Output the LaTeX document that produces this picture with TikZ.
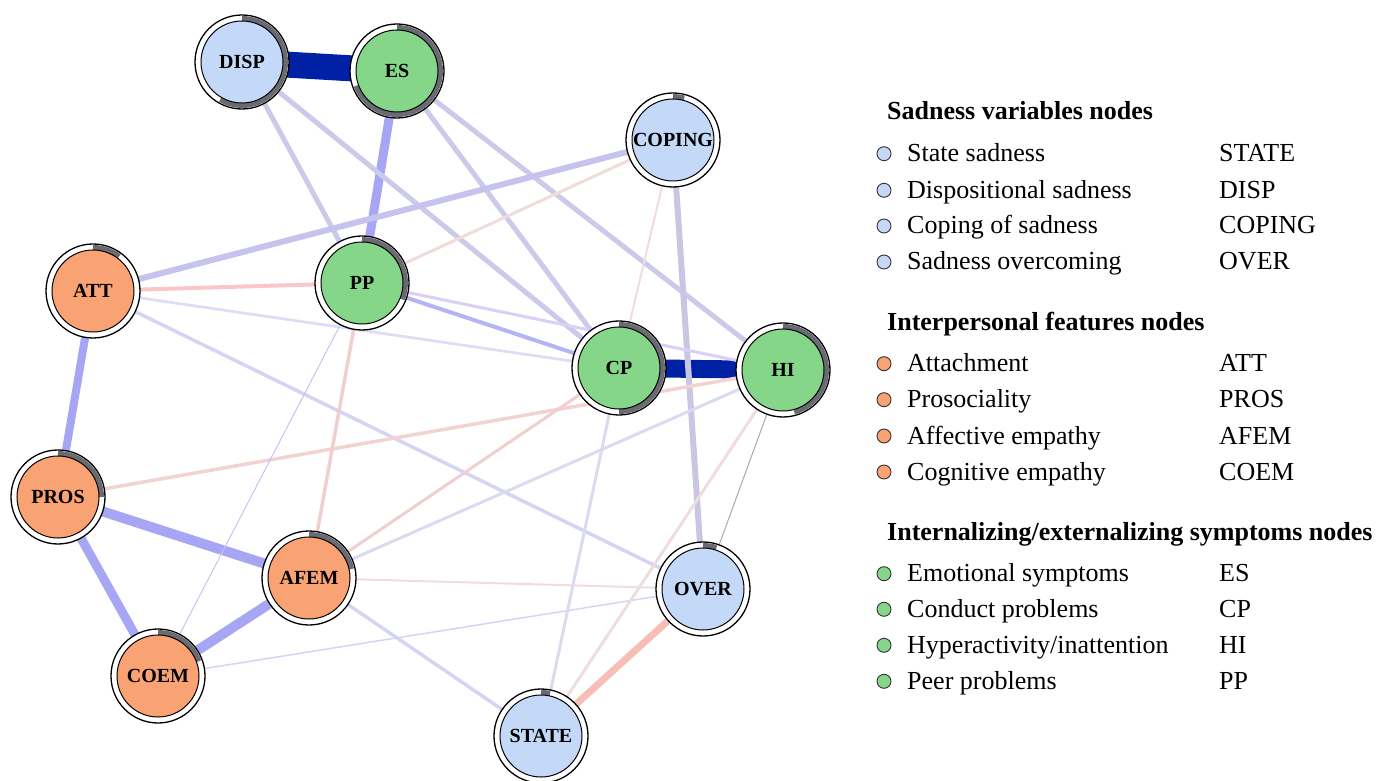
\documentclass[tikz,border=0pt]{standalone}
\usepackage{fontspec}
\setmainfont{Liberation Serif}
\usetikzlibrary{calc}
\pgfdeclarelayer{edges}
\pgfsetlayers{edges,main}
\definecolor{nblue}{RGB}{196,216,248}
\definecolor{ngreen}{RGB}{134,214,138}
\definecolor{norange}{RGB}{249,162,115}
\definecolor{ringgray}{RGB}{106,106,114}
\definecolor{edark}{RGB}{0,32,165}
\definecolor{emed}{RGB}{166,166,244}
\definecolor{elav}{RGB}{204,202,234}
\definecolor{elavB}{RGB}{198,196,238}
\definecolor{elavC}{RGB}{200,198,226}
\definecolor{ePPCP}{RGB}{180,180,244}
\definecolor{ePPHI}{RGB}{220,206,246}
\definecolor{elight}{RGB}{222,220,246}
\definecolor{elightB}{RGB}{212,212,244}
\definecolor{elightC}{RGB}{218,218,240}
\definecolor{ethin}{RGB}{196,196,240}
\definecolor{egray}{RGB}{168,168,184}
\definecolor{epink}{RGB}{250,198,202}
\definecolor{epinkB}{RGB}{240,220,218}
\definecolor{epinkC}{RGB}{243,210,210}
\definecolor{epinkD}{RGB}{240,207,207}
\definecolor{epinkE}{RGB}{239,220,220}
\definecolor{esalmon}{RGB}{247,190,182}
\tikzset{
  outerc/.style={circle, draw=black, line width=1.3pt, fill=white, minimum size=94pt, inner sep=0pt},
  innerc/.style={circle, draw=black, line width=1pt, minimum size=82pt, inner sep=0pt, font=\fontsize{20}{24}\selectfont\bfseries},
  ringarc/.style={draw=ringgray, line width=5.2pt},
  legtext/.style={anchor=base west, inner sep=0pt, font=\fontsize{26}{30}\selectfont},
  leghead/.style={anchor=base west, inner sep=0pt, font=\fontsize{26}{30}\selectfont\bfseries},
  bullet/.style={circle, draw=black!80, line width=0.9pt, minimum size=14pt, inner sep=0pt},
}
\newcommand{\netnode}[6]{%
  \node[outerc] (#1) at (#2,#3) {};
  \draw[ringarc] ($(#1.center)+(90:43.4pt)$) arc[start angle=90, delta angle=-#6, radius=43.4pt];
  \node[innerc, fill=#5] (#1-in) at (#1.center) {#4};
}
\begin{document}
\begin{tikzpicture}[x=1pt,y=1pt]
\useasboundingbox (0,0) rectangle (1389,780);
% nodes
\netnode{DISP}{242}{718}{DISP}{nblue}{210}
\netnode{ES}{397}{709}{ES}{ngreen}{250}
\netnode{COPING}{673}{640}{COPING}{nblue}{15}
\netnode{ATT}{93}{489}{ATT}{norange}{37}
\netnode{PP}{362}{497}{PP}{ngreen}{112}
\netnode{CP}{619}{412}{CP}{ngreen}{180}
\netnode{HI}{783}{410}{HI}{ngreen}{165}
\netnode{PROS}{58}{283}{PROS}{norange}{90}
\netnode{AFEM}{309}{202}{AFEM}{norange}{78}
\netnode{COEM}{158}{104}{COEM}{norange}{70}
\netnode{OVER}{703}{191}{OVER}{nblue}{18}
\netnode{STATE}{541}{44}{STATE}{nblue}{12}
% edges
\begin{pgfonlayer}{edges}
\draw[edark, line width=26pt] (DISP.center) -- (ES.center);
\draw[edark, line width=18pt] (CP.center) -- (HI.center);
\draw[emed, line width=9pt] (ES.center) -- (PP.center);
\draw[emed, line width=8pt] (ATT.center) -- (PROS.center);
\draw[emed, line width=10pt] (PROS.center) -- (AFEM.center);
\draw[emed, line width=9pt] (PROS.center) -- (COEM.center);
\draw[emed, line width=10pt] (COEM.center) -- (AFEM.center);
\draw[elav, line width=5pt] (DISP.center) -- (PP.center);
\draw[elav, line width=5pt] (DISP.center) -- (CP.center);
\draw[elav, line width=5pt] (ES.center) -- (CP.center);
\draw[elav, line width=5pt] (ES.center) -- (HI.center);
\draw[elavB, line width=6pt] (COPING.center) -- (ATT.center);
\draw[elavC, line width=6pt] (COPING.center) -- (OVER.center);
\draw[epinkB, line width=3pt] (COPING.center) -- (PP.center);
\draw[epinkB, line width=2pt] (COPING.center) -- (CP.center);
\draw[epink, line width=4pt] (ATT.center) -- (PP.center);
\draw[elight, line width=2.7pt] (ATT.center) -- (CP.center);
\draw[elightB, line width=3.5pt] (ATT.center) -- (OVER.center);
\draw[ePPCP, line width=4pt] (PP.center) -- (CP.center);
\draw[ePPHI, line width=3pt] (PP.center) -- (HI.center);
\draw[epinkC, line width=3.5pt] (PROS.center) -- (HI.center);
\draw[epinkD, line width=3.5pt] (PP.center) -- (AFEM.center);
\draw[ethin, line width=1pt] (PP.center) -- (COEM.center);
\draw[epinkD, line width=3pt] (AFEM.center) -- (CP.center);
\draw[elightC, line width=3pt] (AFEM.center) -- (HI.center);
\draw[epinkE, line width=2pt] (AFEM.center) -- (OVER.center);
\draw[elightB, line width=3.5pt] (AFEM.center) -- (STATE.center);
\draw[elightB, line width=1.5pt] (COEM.center) -- (OVER.center);
\draw[elightC, line width=3pt] (CP.center) -- (STATE.center);
\draw[epinkE, line width=3pt] (HI.center) -- (STATE.center);
\draw[egray, line width=1pt] (HI.center) -- (OVER.center);
\draw[esalmon, line width=7pt] (OVER.center) -- (STATE.center);
\end{pgfonlayer}
% legend
\node[leghead] (h1) at (887,660) {Sadness variables nodes};
\node[bullet, fill=nblue] (b1) at (884,626.3) {};
\node[legtext] (t1) at (907,618.3) {State sadness};
\node[legtext] (a1) at (1219,618.3) {STATE};
\node[bullet, fill=nblue] (b2) at (884,589.7) {};
\node[legtext] (t2) at (907,581.7) {Dispositional sadness};
\node[legtext] (a2) at (1219,581.7) {DISP};
\node[bullet, fill=nblue] (b3) at (884,554) {};
\node[legtext] (t3) at (907,546) {Coping of sadness};
\node[legtext] (a3) at (1219,546) {COPING};
\node[bullet, fill=nblue] (b4) at (884,518) {};
\node[legtext] (t4) at (907,510) {Sadness overcoming};
\node[legtext] (a4) at (1219,510) {OVER};
\node[leghead] (h2) at (887,449.3) {Interpersonal features nodes};
\node[bullet, fill=norange] (b5) at (884,416.3) {};
\node[legtext] (t5) at (907,408.3) {Attachment};
\node[legtext] (a5) at (1219,408.3) {ATT};
\node[bullet, fill=norange] (b6) at (884,380.3) {};
\node[legtext] (t6) at (907,372.3) {Prosociality};
\node[legtext] (a6) at (1219,372.3) {PROS};
\node[bullet, fill=norange] (b7) at (884,344) {};
\node[legtext] (t7) at (907,336) {Affective empathy};
\node[legtext] (a7) at (1219,336) {AFEM};
\node[bullet, fill=norange] (b8) at (884,308) {};
\node[legtext] (t8) at (907,300) {Cognitive empathy};
\node[legtext] (a8) at (1219,300) {COEM};
\node[leghead] (h3) at (887,239.3) {Internalizing/externalizing symptoms nodes};
\node[bullet, fill=ngreen] (b9) at (884,206.3) {};
\node[legtext] (t9) at (907,198.3) {Emotional symptoms};
\node[legtext] (a9) at (1219,198.3) {ES};
\node[bullet, fill=ngreen] (b10) at (884,170.7) {};
\node[legtext] (t10) at (907,162.7) {Conduct problems};
\node[legtext] (a10) at (1219,162.7) {CP};
\node[bullet, fill=ngreen] (b11) at (884,134.7) {};
\node[legtext] (t11) at (907,126.7) {Hyperactivity/inattention};
\node[legtext] (a11) at (1219,126.7) {HI};
\node[bullet, fill=ngreen] (b12) at (884,98.7) {};
\node[legtext] (t12) at (907,90.7) {Peer problems};
\node[legtext] (a12) at (1219,90.7) {PP};
\end{tikzpicture}
\end{document}
